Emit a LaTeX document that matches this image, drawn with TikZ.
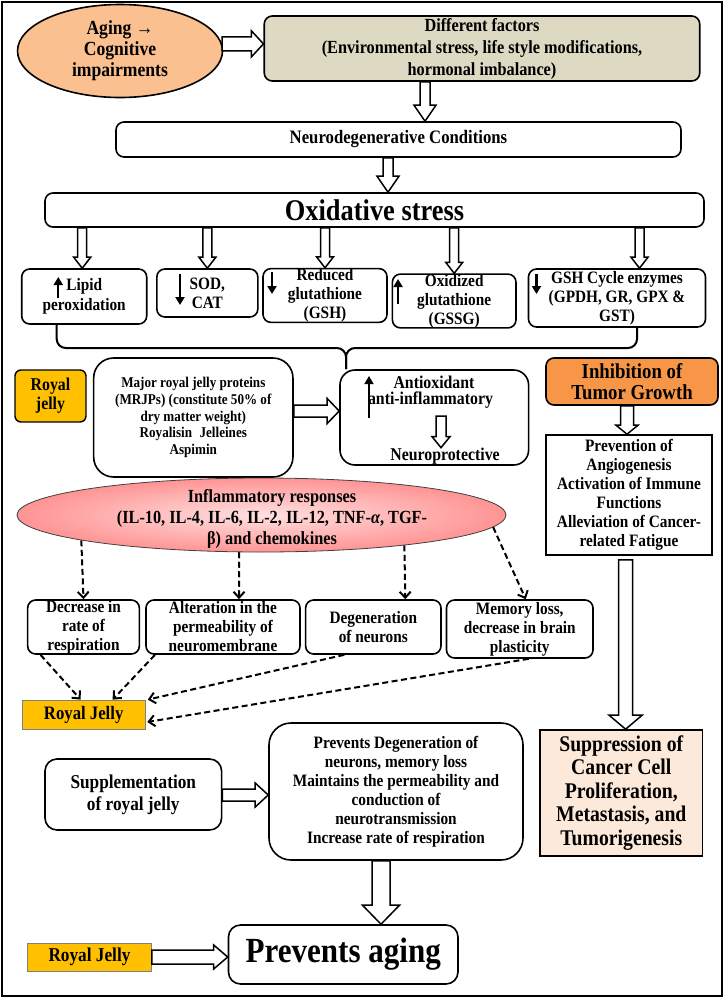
\documentclass[tikz,border=0pt]{standalone}
\usepackage{fontspec}
\setmainfont{Liberation Serif}[FakeStretch=0.88]
\usetikzlibrary{calc,shapes.geometric,arrows.meta}

\definecolor{peach}{HTML}{FAC090}
\definecolor{khaki}{HTML}{DDD9C3}
\definecolor{gold}{HTML}{FFC000}
\definecolor{tumor}{HTML}{F79646}
\definecolor{salmon}{HTML}{FDE9D9}

\newcommand{\setfs}[2]{\fontsize{#1}{#2}\selectfont}
% hollow block arrow: shaft half-width, head half-width, head length, from, to
\newcommand{\fatarrow}[5]{%
  \coordinate (hb) at ($(#5)!#3!(#4)$);
  \draw[fatarrow] ($(#4)!#1!90:(#5)$) -- ($(hb)!#1!90:(#5)$) -- ($(hb)!#2!90:(#5)$) -- (#5)
    -- ($(hb)!#2!-90:(#5)$) -- ($(hb)!#1!-90:(#5)$) -- ($(#4)!#1!-90:(#5)$) -- cycle;
}

\begin{document}
\begin{tikzpicture}[x=1pt,y=-1pt,
  box/.style={draw, line width=1.6pt, rounded corners=8pt, fill=white, align=center, inner sep=0pt},
  plainbox/.style={box, rounded corners=0pt},
  jelly/.style={draw=black!50, line width=0.8pt, fill=gold, align=center, inner sep=0pt},
  txt/.style={align=center, inner sep=0pt},
  dasharrow/.style={line width=2pt, dash pattern=on 6pt off 3.5pt, -{Straight Barb[length=6pt,width=11pt]}},
  updown/.style={line width=2.2pt, -{Triangle[length=8pt,width=9pt]}},
  fatarrow/.style={draw, line width=1.5pt, fill=white, line join=miter},
  brace/.style={line width=2pt, rounded corners=9pt}
]
\useasboundingbox (0,0) rectangle (724,999);
\draw[line width=1.5pt] (2,2) rectangle (722,996);

\node[ellipse, draw, line width=1.6pt, fill=peach, minimum width=205pt, minimum height=93pt, inner sep=0pt, align=center, font=\bfseries\setfs{20}{21}] (aging) at (120,51) {Aging →\\Cognitive\\impairments};
\node[box, fill=khaki, minimum width=435.5pt, minimum height=65pt, font=\bfseries\setfs{18.5}{22}] (diff) at (482,48.5) {Different factors\\(Environmental stress, life style modifications,\\hormonal imbalance)};
\node[box, minimum width=565pt, minimum height=35pt, font=\bfseries\setfs{19}{20}] (neuro) at (398.5,139.5) {Neurodegenerative Conditions};
\node[box, minimum width=659pt, minimum height=34pt, font=\bfseries\setfs{30}{30}] (oxid) at (374.5,210) {Oxidative stress};

\node[box, minimum width=125pt, minimum height=55pt, font=\bfseries\setfs{17.4}{20}] (lipid) at (84.2,296.5) {Lipid\\peroxidation};
\node[box, minimum width=101pt, minimum height=48pt, font=\bfseries\setfs{17.4}{19}] (sod) at (207.35,293) {SOD,\\CAT};
\node[box, minimum width=124pt, minimum height=53pt, font=\bfseries\setfs{17.4}{19}] (gsh) at (325,295.5) {Reduced\\glutathione\\(GSH)};
\node[box, minimum width=123.6pt, minimum height=52pt, font=\bfseries\setfs{17.4}{19}] (gssg) at (454.2,301) {Oxidized\\glutathione\\(GSSG)};
\node[box, minimum width=177pt, minimum height=58pt, font=\bfseries\setfs{17.4}{19}] (cycle) at (617,298) {GSH Cycle enzymes\\(GPDH, GR, GPX \&\\GST)};

\draw[updown] (58.3,298) -- (58.3,277);
\draw[updown] (180,274) -- (180,305);
\draw[updown] (272,272) -- (272,294);
\draw[updown] (398,304) -- (398,279);
\draw[updown] (536.5,274) -- (536.5,294);

\node[box, fill=gold, line width=1.4pt, rounded corners=6pt, minimum width=71pt, minimum height=52pt, font=\bfseries\setfs{18}{19}] (jelly1) at (50.5,396) {Royal\\jelly};
\node[box, rounded corners=20pt, minimum width=199.3pt, minimum height=119pt, font=\bfseries\setfs{14.9}{16.8}] (mrjp) at (193.3,417.5) {Major royal jelly proteins\\(MRJPs) (constitute 50\% of\\dry matter weight)\\Royalisin\enspace Jelleines\\Aspimin};
\node[box, rounded corners=15pt, minimum width=188.6pt, minimum height=95pt] (anti) at (434.3,417.5) {};
\node[txt, font=\bfseries\setfs{18}{19}] (antiox) at (434,382) {Antioxidant};
\node[txt, font=\bfseries\setfs{18}{19}] (antiinf) at (430.5,400) {anti-inflammatory};
\node[txt, font=\bfseries\setfs{18}{19}] (protect) at (445,456) {Neuroprotective};
\draw[updown, line width=1.6pt] (369,418) -- (369,376);

\coordinate (cusp) at (346,348);
\draw[brace] ([xshift=-27.5pt]lipid.south) |- (cusp) -- (cusp |- anti.north);
\draw[brace] ([xshift=20pt]cycle.south) |- (cusp) -- (cusp |- anti.north);

\node[box, fill=tumor, minimum width=172pt, minimum height=47pt, font=\bfseries\setfs{21.3}{21.5}] (tumor) at (632,381.5) {Inhibition of\\Tumor Growth};
\node[plainbox, minimum width=166pt, minimum height=120pt, font=\bfseries\setfs{17.4}{19}] (prevent) at (629,495) {Prevention of\\Angiogenesis\\Activation of Immune\\Functions\\Alleviation of Cancer-\\related Fatigue};
\node[plainbox, fill=salmon, minimum width=162.7pt, minimum height=126pt, font=\bfseries\setfs{22.4}{23.5}] (suppress) at (621.3,793) {Suppression of\\Cancer Cell\\Proliferation,\\Metastasis, and\\Tumorigenesis};

\node[ellipse, draw=black!75, line width=0.8pt, inner color=red!12, outer color=red!42, minimum width=489pt, minimum height=74pt, inner sep=0pt] (infl) at (261.5,515) {};
\node[txt, font=\bfseries\setfs{18.5}{21}] (infltext) at (272,519) {Inflammatory responses\\(IL-10, IL-4, IL-6, IL-2, IL-12, TNF-\textit{α}, TGF-\\β) and chemokines};

\node[box, minimum width=111.7pt, minimum height=54pt, font=\bfseries\setfs{17.4}{19}] (resp) at (83.5,627) {Decrease in\\rate of\\respiration};
\node[box, minimum width=154pt, minimum height=54pt, font=\bfseries\setfs{17.4}{19}] (perm) at (223,627) {Alteration in the\\permeability of\\neuromembrane};
\node[box, minimum width=135.4pt, minimum height=54pt, font=\bfseries\setfs{17.4}{19}] (degen) at (373.3,627) {Degeneration\\of neurons};
\node[box, minimum width=146.5pt, minimum height=58pt, font=\bfseries\setfs{17.4}{19}] (memory) at (519.75,629) {Memory loss,\\decrease in brain\\plasticity};

\draw[dasharrow] (infl.188) -- (resp.north);
\draw[dasharrow] (infl.239) -- ([xshift=16pt]perm.north);
\draw[dasharrow] (infl.348) -- ([xshift=32pt]degen.north);
\draw[dasharrow] (infl.357) -- ([xshift=6pt]memory.north);

\node[jelly, minimum width=123.4pt, minimum height=29pt, font=\bfseries\setfs{19}{19}] (jelly2) at (83.7,714.5) {Royal Jelly};
\draw[dasharrow] ([xshift=-43pt]resp.south) -- ([xshift=-3pt]jelly2.north);
\draw[dasharrow] ([xshift=-68pt]perm.south) -- ([xshift=29pt]jelly2.north);
\draw[dasharrow] ([xshift=-29pt]degen.south) -- ([xshift=2pt]jelly2.north east);
\draw[dasharrow] ([xshift=9pt]memory.south) -- ([shift={(1.5pt,-7.5pt)}]jelly2.east);

\node[box, rounded corners=12pt, minimum width=176.6pt, minimum height=71pt, font=\bfseries\setfs{19.6}{22}] (suppl) at (133.3,794.5) {Supplementation\\of royal jelly};
\node[box, rounded corners=22pt, minimum width=254pt, minimum height=137pt, font=\bfseries\setfs{17.4}{19}] (benefit) at (396,791.5) {Prevents Degeneration of\\neurons, memory loss\\Maintains the permeability and\\conduction of\\neurotransmission\\Increase rate of respiration};
\node[box, rounded corners=12pt, minimum width=229.5pt, minimum height=59pt, font=\bfseries\setfs{35.3}{36}] (noaging) at (343.25,954.5) {Prevents aging};
\node[jelly, minimum width=123.7pt, minimum height=28pt, font=\bfseries\setfs{19.6}{19}] (jelly3) at (89.5,957) {Royal Jelly};

\coordinate (a1) at (aging.4);
\fatarrow{7pt}{13pt}{12pt}{a1}{a1 -| diff.west}
\coordinate (a2) at ([xshift=-57pt]diff.south);
\fatarrow{5pt}{11pt}{16pt}{a2}{a2 |- neuro.north}
\coordinate (a3) at ([xshift=-10.5pt]neuro.south);
\fatarrow{5pt}{11pt}{16pt}{a3}{a3 |- oxid.north}
\coordinate (a11) at ([xshift=-2pt]lipid.north);
\fatarrow{4.5pt}{8.5pt}{11pt}{a11 |- oxid.south}{a11}
\fatarrow{4.5pt}{8.5pt}{11pt}{sod.north |- oxid.south}{sod.north}
\fatarrow{4.5pt}{8.5pt}{11pt}{gsh.north |- oxid.south}{gsh.north}
\fatarrow{4.5pt}{8.5pt}{11pt}{gssg.north |- oxid.south}{gssg.north}
\coordinate (a4) at ([xshift=22.5pt]cycle.north);
\fatarrow{4.5pt}{8.5pt}{11pt}{a4 |- oxid.south}{a4}
\coordinate (a5) at ([yshift=6.5pt]mrjp.east);
\fatarrow{6pt}{12.5pt}{12pt}{a5}{a5 -| anti.west}
\coordinate (a6) at (441,416);
\fatarrow{5pt}{9pt}{11pt}{a6}{a6 |- protect.north}
\coordinate (a7) at ([xshift=-5pt]tumor.south);
\fatarrow{6.5pt}{11pt}{9pt}{a7}{a7 |- prevent.north}
\coordinate (a8) at ([shift={(-3.4pt,-4pt)}]prevent.south);
\fatarrow{7pt}{16.5pt}{14pt}{a8}{a8 |- suppress.north}
\coordinate (a9) at ([yshift=-0.5pt]suppl.east);
\fatarrow{6pt}{12pt}{13pt}{a9}{a9 -| benefit.west}
\coordinate (a10) at ([xshift=-15pt]benefit.south);
\fatarrow{9pt}{18.5pt}{19pt}{a10}{a10 |- noaging.north}
\fatarrow{7pt}{12pt}{14pt}{jelly3.east}{jelly3.east -| noaging.west}
\end{tikzpicture}
\end{document}
